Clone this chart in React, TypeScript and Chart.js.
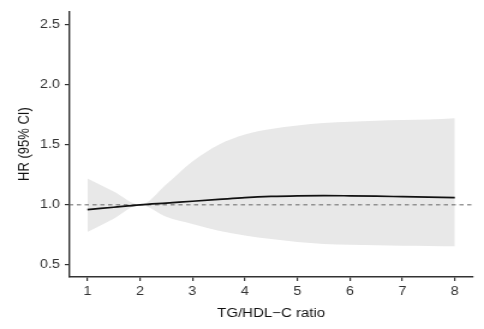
import React, { useEffect, useRef } from "react";
import { Chart, registerables } from "chart.js";

Chart.register(...registerables);

const ratio = [1, 1.5, 2, 2.5, 3, 3.5, 4, 4.5, 5, 5.5, 6, 6.5, 7, 7.5, 8];
const hr = [0.96, 0.98, 1.0, 1.015, 1.03, 1.045, 1.06, 1.07, 1.075, 1.077, 1.075, 1.072, 1.068, 1.064, 1.06];
const upper = [1.22, 1.11, 1.0, 1.17, 1.36, 1.5, 1.585, 1.63, 1.66, 1.68, 1.69, 1.7, 1.705, 1.71, 1.72];
const lower = [0.775, 0.885, 1.0, 0.9, 0.84, 0.785, 0.745, 0.715, 0.69, 0.675, 0.668, 0.663, 0.66, 0.658, 0.655];
const refHR = 1;
const xTicks = [1, 2, 3, 4, 5, 6, 7, 8];
const yTicks = [0.5, 1.0, 1.5, 2.0, 2.5];
const xRange = [0.65, 8.35];
const yRange = [0.4, 2.61];

const FONT = "'Liberation Sans', Arial, sans-serif";
// the reference picture is stretched horizontally by about 1.2
const CANVAS_W = 403;
const CANVAS_H = 329;

export default function App() {
  const ref = useRef<HTMLCanvasElement | null>(null);
  useEffect(() => {
    document.body.style.margin = "0";
    const pts = (ys: number[]) => ratio.map((x, i) => ({ x, y: ys[i] }));
    const chart = new Chart(ref.current!, {
      type: "line",
      data: {
        datasets: [
          {
            data: pts(hr),
            borderColor: "#111111",
            borderWidth: 1.7,
            pointRadius: 0,
            cubicInterpolationMode: "monotone",
            fill: false,
          },
          {
            data: [
              { x: xRange[0], y: refHR },
              { x: xRange[1], y: refHR },
            ],
            borderColor: "#666666",
            borderWidth: 1,
            borderDash: [3.5, 3],
            pointRadius: 0,
            fill: false,
          },
          {
            data: pts(upper),
            borderWidth: 0,
            borderColor: "rgba(0,0,0,0)",
            backgroundColor: "#e8e8e8",
            pointRadius: 0,
            cubicInterpolationMode: "monotone",
            fill: "+1",
          },
          {
            data: pts(lower),
            borderWidth: 0,
            borderColor: "rgba(0,0,0,0)",
            pointRadius: 0,
            cubicInterpolationMode: "monotone",
            fill: false,
          },
        ],
      },
      options: {
        animation: false,
        responsive: false,
        devicePixelRatio: 1,
        layout: { padding: { left: 0, right: 9, top: 7, bottom: 0 } },
        plugins: { legend: { display: false }, tooltip: { enabled: false } },
        scales: {
          x: {
            type: "linear",
            min: xRange[0],
            max: xRange[1],
            afterBuildTicks: (s: any) => {
              s.ticks = xTicks.map((v) => ({ value: v }));
            },
            afterFit: (s: any) => {
              s.height = 52;
            },
            grid: { display: true, drawOnChartArea: false, drawTicks: true, tickLength: 4, color: "#333333", lineWidth: 1.2 },
            border: { display: true, color: "#333333", width: 1.4 },
            ticks: {
              padding: 3,
              color: "#333333",
              font: { family: FONT, size: 12 },
              callback: (v: any) => String(v),
            },
            title: {
              display: true,
              text: "TG/HDL\u2212C ratio",
              color: "#111111",
              font: { family: FONT, size: 12.5 },
              padding: { top: 0, bottom: 8 },
            },
          },
          y: {
            type: "linear",
            min: yRange[0],
            max: yRange[1],
            afterBuildTicks: (s: any) => {
              s.ticks = yTicks.map((v) => ({ value: v }));
            },
            afterFit: (s: any) => {
              s.width = 57.5;
            },
            grid: { display: true, drawOnChartArea: false, drawTicks: true, tickLength: 3.5, color: "#333333", lineWidth: 1.2 },
            border: { display: true, color: "#333333", width: 1.4 },
            ticks: {
              padding: 4,
              color: "#333333",
              font: { family: FONT, size: 12 },
              callback: (v: any) => Number(v).toFixed(1),
            },
            title: {
              display: true,
              text: "HR (95% CI)",
              color: "#111111",
              font: { family: FONT, size: 13 },
              padding: { top: 13, bottom: 0 },
            },
          },
        },
      },
    } as any);
    return () => chart.destroy();
  }, []);
  return (
    <canvas
      ref={ref}
      width={CANVAS_W}
      height={CANVAS_H}
      style={{ display: "block", width: "484px", height: "329px" }}
    />
  );
}
